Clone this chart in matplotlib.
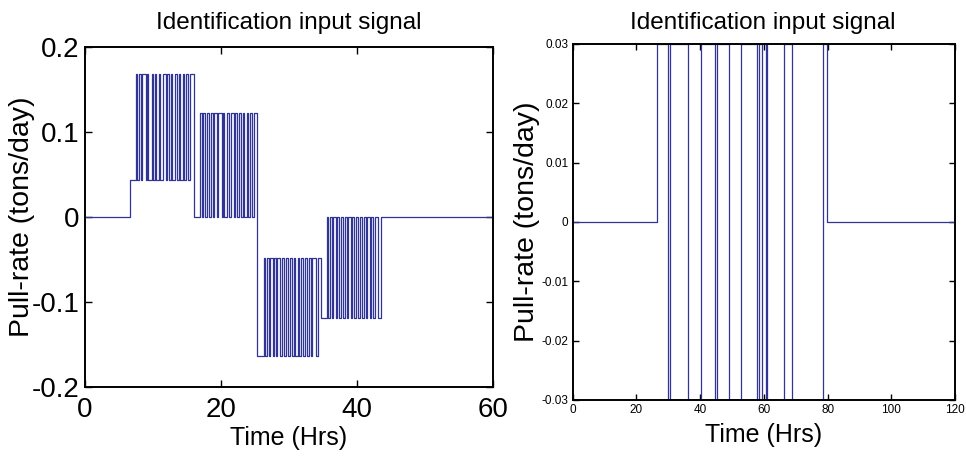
import numpy as np
import matplotlib
matplotlib.use('Agg')
from matplotlib import pyplot as plt

plt.rcParams['font.family'] = ['Liberation Sans', 'DejaVu Sans']
plt.rcParams['axes.unicode_minus'] = False

# Left signal: start levels and switching times (hours)
step_on_time = 6.6
step_on_level = 0.044

# (low, high) levels of the four switching blocks
block_levels = [(0.044, 0.168), (0.0, 0.122), (-0.163, -0.048), (-0.119, 0.0)]

# toggle times of each block (first toggle goes to the high level)
block1_times = [7.5, 7.7, 7.9, 8.2, 8.4, 8.9, 9.1, 9.3, 9.8, 10.0, 10.3, 10.5, 10.9, 11.1, 11.4,
                11.9, 12.1, 12.4, 12.6, 12.8, 13.3, 13.5, 13.8, 14.0, 14.4, 14.6, 14.9, 15.2, 15.5]
block2_times = [16.9, 17.2, 17.4, 17.6, 17.9, 18.3, 18.5, 18.8, 19.0, 19.4, 19.6, 20.1, 20.3, 20.5, 20.9,
                21.2, 21.4, 21.9, 22.1, 22.4, 22.6, 22.9, 23.2, 23.4, 23.8, 24.0, 24.2, 24.5, 24.8]
block3_times = [26.3, 26.5, 26.7, 27.0, 27.2, 27.6, 27.8, 28.1, 28.3, 28.7, 28.9, 29.3, 29.5, 29.8, 30.1,
                30.5, 30.7, 30.9, 31.3, 31.5, 31.8, 32.0, 32.4, 32.6, 32.9, 33.2, 33.4, 33.9, 34.3]
block4_times = [35.6, 35.8, 36.0, 36.3, 36.5, 36.9, 37.1, 37.4, 37.6, 38.0, 38.2, 38.5, 38.7, 39.1, 39.3,
                39.6, 39.9, 40.2, 40.4, 40.8, 41.0, 41.3, 41.5, 41.9, 42.1, 42.4, 42.7, 43.1, 43.5]
# time where each block hands over to the next block's low level
block_end_times = [16.0, 25.3, 34.7, None]
left_end_time = 60

# Right signal: switching times and levels
right_times = [0, 26.6, 30.0, 30.4, 36.3, 40.3, 44.6, 45.3, 49.0, 52.8, 57.7, 58.6, 59.3,
               60.6, 61.1, 66.3, 68.9, 78.7, 79.7, 120]
right_levels = [0, 0.03, -0.03, 0.03, -0.03, 0.03, -0.03, 0.03, -0.03, 0.03, -0.03, 0.03, -0.03,
                0.03, -0.03, 0.03, -0.03, 0.03, 0, 0]

# Build the left step signal
left_t = [0, step_on_time]
left_y = [0, step_on_level]
all_blocks = [block1_times, block2_times, block3_times, block4_times]
for k, times in enumerate(all_blocks):
    low, high = block_levels[k]
    for i, t in enumerate(times):
        left_t.append(t)
        left_y.append(high if i % 2 == 0 else low)
    if block_end_times[k] is not None:
        left_t.append(block_end_times[k])
        left_y.append(block_levels[k + 1][0])
left_t.append(left_end_time)
left_y.append(left_y[-1])

line_color = '#2f3496'

fig = plt.figure(figsize=(9.66, 4.62), dpi=100)

# Left panel
ax1 = fig.add_axes([85 / 966, 1 - 387 / 462, 408 / 966, 340 / 462])
ax1.plot(left_t, left_y, drawstyle='steps-post', color=line_color, lw=0.9)
ax1.set_xlim(0, 60)
ax1.set_ylim(-0.2, 0.2)
ax1.set_xticks([0, 20, 40, 60])
ax1.set_yticks([-0.2, -0.1, 0, 0.1, 0.2])
ax1.set_yticklabels(['-0.2', '-0.1', '0', '0.1', '0.2'])
ax1.tick_params(direction='in', top=True, right=True, labelsize=20, length=5, width=1)
ax1.tick_params(axis='y', pad=4)
ax1.tick_params(axis='x', pad=7)
ax1.set_xlabel('Time (Hrs)', fontsize=18)
ax1.set_ylabel('Pull-rate (tons/day)', fontsize=20.5)
ax1.xaxis.set_label_coords(0.5, -0.115)
ax1.yaxis.set_label_coords(-0.122, 0.5)

# Right panel
ax2 = fig.add_axes([572.7 / 966, 1 - 400 / 462, 382.3 / 966, 356 / 462])
ax2.plot(right_times, right_levels, drawstyle='steps-post', color=line_color, lw=0.9)
ax2.set_xlim(0, 120)
ax2.set_ylim(-0.03, 0.03)
ax2.set_xticks([0, 20, 40, 60, 80, 100, 120])
ax2.set_yticks([-0.03, -0.02, -0.01, 0, 0.01, 0.02, 0.03])
ax2.set_yticklabels(['-0.03', '-0.02', '-0.01', '0', '0.01', '0.02', '0.03'])
ax2.tick_params(direction='in', top=True, right=True, labelsize=8.5, length=4, width=1)
ax2.tick_params(axis='y', pad=3)
ax2.tick_params(axis='x', pad=3)
ax2.set_xlabel('Time (Hrs)', fontsize=18)
ax2.set_ylabel('Pull-rate (tons/day)', fontsize=20.5)
ax2.xaxis.set_label_coords(0.5, -0.065)
ax2.yaxis.set_label_coords(-0.086, 0.5)

for ax in (ax1, ax2):
    for s in ax.spines.values():
        s.set_linewidth(1.4)

fig.text(289 / 966, 1 - 29 / 462, 'Identification input signal', ha='center', va='baseline', fontsize=17.5)
fig.text(763 / 966, 1 - 29 / 462, 'Identification input signal', ha='center', va='baseline', fontsize=17.5)

plt.savefig('out.png', dpi=100)
plt.close()
